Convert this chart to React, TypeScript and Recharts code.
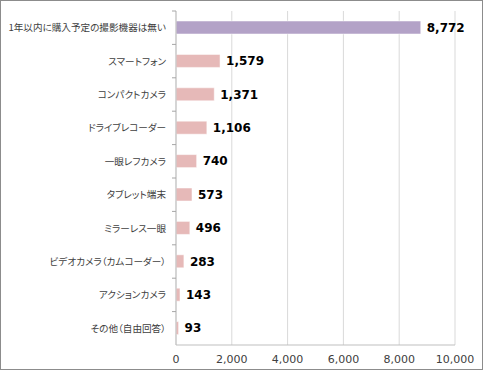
import React from 'react';
import { BarChart, Bar, XAxis, YAxis, CartesianGrid, Cell, LabelList } from 'recharts';

const categories = [
  '1年以内に購入予定の撮影機器は無い',
  'スマートフォン',
  'コンパクトカメラ',
  'ドライブレコーダー',
  '一眼レフカメラ',
  'タブレット端末',
  'ミラーレス一眼',
  'ビデオカメラ（カムコーダー）',
  'アクションカメラ',
  'その他（自由回答）',
];
const values = [8772, 1579, 1371, 1106, 740, 573, 496, 283, 143, 93];
const xTicks = [0, 2000, 4000, 6000, 8000, 10000];

const data = categories.map((name, i) => ({ name, value: values[i] }));

const W = 483;
const H = 370;
const TOP = 11;
const BOTTOM_PLOT = 345;
const BAND = (BOTTOM_PLOT - TOP) / categories.length;

const fmt = (v: number) => v.toLocaleString('en-US');

// category label + small tick mark on the band boundary above it
const CategoryTick = ({ x, y, payload }: any) => (
  <g>
    <line x1={x + 6} x2={x + 10} y1={y - BAND / 2} y2={y - BAND / 2} stroke="#a6a6a6" strokeWidth={1} />
    <text x={x} y={y} dy={3.5} textAnchor="end" fontSize={9.6} fill="#404040"
      style={{ fontFamily: '"Noto Sans CJK JP", sans-serif', fontFeatureSettings: '"palt"' }}>
      {payload.value}
    </text>
  </g>
);

export default function App() {
  return (
    <div style={{ position: 'absolute', left: 0, top: 0, width: W, height: H, background: '#fff',
      boxSizing: 'border-box', border: '1px solid #8c8c8c' }}>
      <div style={{ position: 'absolute', left: -1, top: -1 }}>
        <BarChart width={W} height={H} data={data} layout="vertical"
          margin={{ top: TOP, right: 28, bottom: H - BOTTOM_PLOT - 22, left: 0 }} barCategoryGap={0}>
          <CartesianGrid horizontal={false} stroke="#d9d9d9" />
          <XAxis type="number" domain={[0, 10000]} ticks={xTicks} tickFormatter={fmt}
            axisLine={{ stroke: '#bfbfbf' }} tickLine={false} height={22} tickMargin={4}
            tick={{ fontSize: 11, fill: '#404040', fontFamily: '"DejaVu Sans", sans-serif' }} />
          <YAxis type="category" dataKey="name" width={176} axisLine={{ stroke: '#bfbfbf' }}
            tickLine={false} tickSize={0} tickMargin={10} tick={<CategoryTick />} interval={0} />
          <Bar dataKey="value" barSize={13} isAnimationActive={false} stroke="#ffffff" strokeOpacity={0.5}>
            {data.map((d, i) => (
              <Cell key={d.name} fill={i === 0 ? '#b3a2c7' : '#e6b9b8'} />
            ))}
            <LabelList dataKey="value" position="right" offset={6} formatter={fmt as any}
              style={{ fontSize: 12, fontWeight: 'bold', fill: '#000', fontFamily: '"DejaVu Sans", sans-serif' }} />
          </Bar>
        </BarChart>
      </div>
    </div>
  );
}
